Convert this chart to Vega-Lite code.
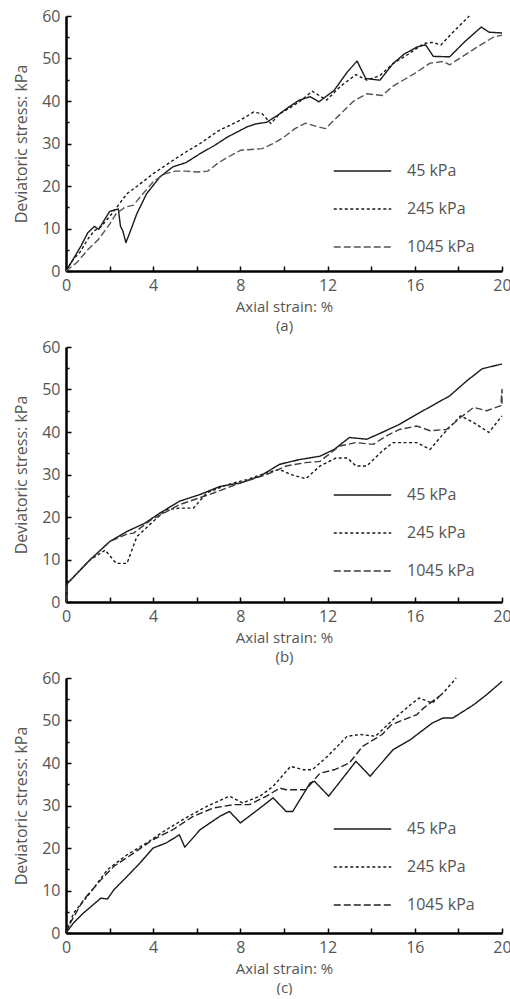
{
  "$schema": "https://vega.github.io/schema/vega-lite/v6.json",
  "padding": {"left": 13, "top": 8, "right": 5, "bottom": 0},
  "bounds": "flush",
  "spacing": 76,
  "datasets": {
    "a": [
      {"s":"45 kPa","x":0,"y":0},{"s":"45 kPa","x":0.3,"y":2.5},{"s":"45 kPa","x":0.7,"y":6},{"s":"45 kPa","x":1,"y":9},{"s":"45 kPa","x":1.3,"y":10.5},{"s":"45 kPa","x":1.5,"y":9.8},{"s":"45 kPa","x":1.7,"y":11.5},{"s":"45 kPa","x":2,"y":14},{"s":"45 kPa","x":2.4,"y":14.6},{"s":"45 kPa","x":2.5,"y":10.5},{"s":"45 kPa","x":2.6,"y":9.5},{"s":"45 kPa","x":2.75,"y":6.7},{"s":"45 kPa","x":3,"y":10},{"s":"45 kPa","x":3.25,"y":13.5},{"s":"45 kPa","x":3.7,"y":18.2},{"s":"45 kPa","x":4.3,"y":22.1},{"s":"45 kPa","x":4.9,"y":24.5},{"s":"45 kPa","x":5.5,"y":25.5},{"s":"45 kPa","x":6.15,"y":27.6},{"s":"45 kPa","x":6.8,"y":29.5},{"s":"45 kPa","x":7.4,"y":31.5},{"s":"45 kPa","x":8.3,"y":33.9},{"s":"45 kPa","x":8.7,"y":34.6},{"s":"45 kPa","x":9.2,"y":35},{"s":"45 kPa","x":9.7,"y":36.6},{"s":"45 kPa","x":10.2,"y":38.5},{"s":"45 kPa","x":10.7,"y":40.2},{"s":"45 kPa","x":11.2,"y":41},{"s":"45 kPa","x":11.6,"y":39.8},{"s":"45 kPa","x":12.3,"y":42.5},{"s":"45 kPa","x":12.9,"y":46.8},{"s":"45 kPa","x":13.35,"y":49.4},{"s":"45 kPa","x":13.75,"y":45.3},{"s":"45 kPa","x":14.4,"y":44.9},{"s":"45 kPa","x":15,"y":48.8},{"s":"45 kPa","x":15.5,"y":51},{"s":"45 kPa","x":16.1,"y":52.7},{"s":"45 kPa","x":16.5,"y":53.2},{"s":"45 kPa","x":16.85,"y":50.5},{"s":"45 kPa","x":17.6,"y":50.4},{"s":"45 kPa","x":18.3,"y":54},{"s":"45 kPa","x":19.05,"y":57.4},{"s":"45 kPa","x":19.4,"y":56.2},{"s":"45 kPa","x":20,"y":56},
      {"s":"245 kPa","x":0,"y":0},{"s":"245 kPa","x":0.3,"y":2.5},{"s":"245 kPa","x":0.65,"y":4.5},{"s":"245 kPa","x":1,"y":7.5},{"s":"245 kPa","x":1.3,"y":9.5},{"s":"245 kPa","x":1.6,"y":10.4},{"s":"245 kPa","x":2,"y":12.8},{"s":"245 kPa","x":2.3,"y":14.8},{"s":"245 kPa","x":2.8,"y":18.2},{"s":"245 kPa","x":3.4,"y":20.5},{"s":"245 kPa","x":4,"y":22.9},{"s":"245 kPa","x":4.9,"y":26},{"s":"245 kPa","x":5.5,"y":28},{"s":"245 kPa","x":6.15,"y":30},{"s":"245 kPa","x":7,"y":33},{"s":"245 kPa","x":8,"y":35.5},{"s":"245 kPa","x":8.6,"y":37.4},{"s":"245 kPa","x":9,"y":37},{"s":"245 kPa","x":9.4,"y":34.7},{"s":"245 kPa","x":9.8,"y":37},{"s":"245 kPa","x":10.3,"y":38.5},{"s":"245 kPa","x":10.7,"y":39.8},{"s":"245 kPa","x":11.3,"y":42.3},{"s":"245 kPa","x":11.95,"y":40.2},{"s":"245 kPa","x":12.6,"y":43.5},{"s":"245 kPa","x":13.3,"y":46.2},{"s":"245 kPa","x":13.8,"y":44.9},{"s":"245 kPa","x":14.4,"y":46},{"s":"245 kPa","x":15,"y":48.8},{"s":"245 kPa","x":15.7,"y":51},{"s":"245 kPa","x":16.4,"y":53.5},{"s":"245 kPa","x":16.8,"y":53.8},{"s":"245 kPa","x":17.2,"y":53.2},{"s":"245 kPa","x":17.75,"y":56.2},{"s":"245 kPa","x":18.5,"y":60},
      {"s":"1045 kPa","x":0,"y":0},{"s":"1045 kPa","x":0.5,"y":2},{"s":"1045 kPa","x":1,"y":5},{"s":"1045 kPa","x":1.5,"y":7.5},{"s":"1045 kPa","x":2,"y":11},{"s":"1045 kPa","x":2.3,"y":13.5},{"s":"1045 kPa","x":2.7,"y":15},{"s":"1045 kPa","x":3.1,"y":15.5},{"s":"1045 kPa","x":3.5,"y":18},{"s":"1045 kPa","x":4,"y":21},{"s":"1045 kPa","x":4.5,"y":22.8},{"s":"1045 kPa","x":5,"y":23.5},{"s":"1045 kPa","x":5.5,"y":23.5},{"s":"1045 kPa","x":6,"y":23.3},{"s":"1045 kPa","x":6.5,"y":23.5},{"s":"1045 kPa","x":7,"y":25.5},{"s":"1045 kPa","x":7.5,"y":27},{"s":"1045 kPa","x":8,"y":28.4},{"s":"1045 kPa","x":8.5,"y":28.6},{"s":"1045 kPa","x":9,"y":28.8},{"s":"1045 kPa","x":9.5,"y":30},{"s":"1045 kPa","x":10,"y":31.5},{"s":"1045 kPa","x":10.5,"y":33.5},{"s":"1045 kPa","x":11,"y":34.8},{"s":"1045 kPa","x":11.5,"y":34},{"s":"1045 kPa","x":11.9,"y":33.5},{"s":"1045 kPa","x":12.5,"y":36.5},{"s":"1045 kPa","x":13.2,"y":40},{"s":"1045 kPa","x":13.8,"y":41.7},{"s":"1045 kPa","x":14.5,"y":41.3},{"s":"1045 kPa","x":15,"y":43.5},{"s":"1045 kPa","x":15.5,"y":45},{"s":"1045 kPa","x":16,"y":46.5},{"s":"1045 kPa","x":16.7,"y":48.9},{"s":"1045 kPa","x":17.3,"y":49.3},{"s":"1045 kPa","x":17.6,"y":48.5},{"s":"1045 kPa","x":18.2,"y":50.5},{"s":"1045 kPa","x":18.8,"y":52.5},{"s":"1045 kPa","x":19.6,"y":55},{"s":"1045 kPa","x":20,"y":55.5}
    ],
    "b": [
      {"s":"45 kPa","x":0,"y":0},{"s":"45 kPa","x":0.05,"y":4.3},{"s":"45 kPa","x":0.5,"y":6.7},{"s":"45 kPa","x":1.1,"y":9.9},{"s":"45 kPa","x":2,"y":14.2},{"s":"45 kPa","x":2.8,"y":16.6},{"s":"45 kPa","x":3.6,"y":18.5},{"s":"45 kPa","x":4.3,"y":20.9},{"s":"45 kPa","x":5.2,"y":23.7},{"s":"45 kPa","x":6.15,"y":25.3},{"s":"45 kPa","x":7.07,"y":27.2},{"s":"45 kPa","x":8,"y":28},{"s":"45 kPa","x":8.9,"y":29.6},{"s":"45 kPa","x":9.8,"y":32.4},{"s":"45 kPa","x":10.7,"y":33.5},{"s":"45 kPa","x":11.65,"y":34.3},{"s":"45 kPa","x":12.3,"y":35.9},{"s":"45 kPa","x":13,"y":38.7},{"s":"45 kPa","x":13.8,"y":38.3},{"s":"45 kPa","x":14.5,"y":39.9},{"s":"45 kPa","x":15.3,"y":41.8},{"s":"45 kPa","x":16.1,"y":44.2},{"s":"45 kPa","x":16.8,"y":46.2},{"s":"45 kPa","x":17.6,"y":48.5},{"s":"45 kPa","x":18.4,"y":52.1},{"s":"45 kPa","x":19.1,"y":54.9},{"s":"45 kPa","x":20,"y":56},
      {"s":"245 kPa","x":0,"y":0},{"s":"245 kPa","x":0.05,"y":4.3},{"s":"245 kPa","x":0.5,"y":6.7},{"s":"245 kPa","x":1.1,"y":9.9},{"s":"245 kPa","x":1.8,"y":12.2},{"s":"245 kPa","x":2.3,"y":9.1},{"s":"245 kPa","x":2.8,"y":9.1},{"s":"245 kPa","x":3.25,"y":15.4},{"s":"245 kPa","x":3.9,"y":18.5},{"s":"245 kPa","x":4.6,"y":21.7},{"s":"245 kPa","x":5.2,"y":22.1},{"s":"245 kPa","x":5.85,"y":22.1},{"s":"245 kPa","x":6.46,"y":25.7},{"s":"245 kPa","x":7.4,"y":27.6},{"s":"245 kPa","x":8.3,"y":28.8},{"s":"245 kPa","x":9.2,"y":30.4},{"s":"245 kPa","x":9.8,"y":31.2},{"s":"245 kPa","x":10.3,"y":30},{"s":"245 kPa","x":11,"y":29},{"s":"245 kPa","x":11.65,"y":32},{"s":"245 kPa","x":12.4,"y":33.9},{"s":"245 kPa","x":12.9,"y":33.9},{"s":"245 kPa","x":13.3,"y":32},{"s":"245 kPa","x":13.8,"y":32},{"s":"245 kPa","x":14.5,"y":35.5},{"s":"245 kPa","x":15,"y":37.5},{"s":"245 kPa","x":16.1,"y":37.5},{"s":"245 kPa","x":16.7,"y":35.9},{"s":"245 kPa","x":17.3,"y":39.5},{"s":"245 kPa","x":18.1,"y":43.8},{"s":"245 kPa","x":18.7,"y":42.2},{"s":"245 kPa","x":19.4,"y":39.9},{"s":"245 kPa","x":20,"y":43.8},
      {"s":"1045 kPa","x":0,"y":0},{"s":"1045 kPa","x":0.05,"y":4.3},{"s":"1045 kPa","x":0.5,"y":6.7},{"s":"1045 kPa","x":1.1,"y":9.9},{"s":"1045 kPa","x":2,"y":14.2},{"s":"1045 kPa","x":2.8,"y":16},{"s":"1045 kPa","x":3.1,"y":16.2},{"s":"1045 kPa","x":3.9,"y":19.3},{"s":"1045 kPa","x":5.2,"y":22.9},{"s":"1045 kPa","x":6.8,"y":25.7},{"s":"1045 kPa","x":8,"y":28},{"s":"1045 kPa","x":9.2,"y":30},{"s":"1045 kPa","x":10.1,"y":32},{"s":"1045 kPa","x":11,"y":32.8},{"s":"1045 kPa","x":11.65,"y":33.1},{"s":"1045 kPa","x":12.55,"y":36.7},{"s":"1045 kPa","x":13.3,"y":37.5},{"s":"1045 kPa","x":14.1,"y":37.1},{"s":"1045 kPa","x":14.7,"y":39.1},{"s":"1045 kPa","x":15.3,"y":40.6},{"s":"1045 kPa","x":16.1,"y":41.4},{"s":"1045 kPa","x":16.7,"y":40.3},{"s":"1045 kPa","x":17.45,"y":40.6},{"s":"1045 kPa","x":18.1,"y":43.4},{"s":"1045 kPa","x":18.7,"y":45.8},{"s":"1045 kPa","x":19.3,"y":45},{"s":"1045 kPa","x":19.95,"y":46.2},{"s":"1045 kPa","x":20,"y":50},{"s":"1045 kPa","x":20,"y":46.2}
    ],
    "c": [
      {"s":"45 kPa","x":0,"y":0},{"s":"45 kPa","x":0.35,"y":2.4},{"s":"45 kPa","x":0.8,"y":4.7},{"s":"45 kPa","x":1.6,"y":8.2},{"s":"45 kPa","x":1.9,"y":8},{"s":"45 kPa","x":2.2,"y":10.2},{"s":"45 kPa","x":2.8,"y":13.3},{"s":"45 kPa","x":3.4,"y":16.5},{"s":"45 kPa","x":4,"y":20},{"s":"45 kPa","x":4.6,"y":21.2},{"s":"45 kPa","x":5.2,"y":23.1},{"s":"45 kPa","x":5.45,"y":20.2},{"s":"45 kPa","x":6.15,"y":24.3},{"s":"45 kPa","x":7.07,"y":27.5},{"s":"45 kPa","x":7.5,"y":28.6},{"s":"45 kPa","x":8,"y":25.9},{"s":"45 kPa","x":8.9,"y":29.4},{"s":"45 kPa","x":9.5,"y":31.8},{"s":"45 kPa","x":10.1,"y":28.6},{"s":"45 kPa","x":10.4,"y":28.6},{"s":"45 kPa","x":11.2,"y":35.3},{"s":"45 kPa","x":11.4,"y":35.7},{"s":"45 kPa","x":12.05,"y":32.2},{"s":"45 kPa","x":13.3,"y":40.4},{"s":"45 kPa","x":13.95,"y":36.9},{"s":"45 kPa","x":15,"y":43.1},{"s":"45 kPa","x":15.8,"y":45.5},{"s":"45 kPa","x":16.8,"y":49.4},{"s":"45 kPa","x":17.3,"y":50.6},{"s":"45 kPa","x":17.75,"y":50.6},{"s":"45 kPa","x":18.7,"y":53.7},{"s":"45 kPa","x":19.3,"y":56.1},{"s":"45 kPa","x":20,"y":59.2},
      {"s":"245 kPa","x":0,"y":0},{"s":"245 kPa","x":0.35,"y":4.7},{"s":"245 kPa","x":1.1,"y":9.4},{"s":"245 kPa","x":1.9,"y":14.9},{"s":"245 kPa","x":2.8,"y":18.4},{"s":"245 kPa","x":3.7,"y":21.2},{"s":"245 kPa","x":4.6,"y":24.3},{"s":"245 kPa","x":5.5,"y":27.1},{"s":"245 kPa","x":6.46,"y":29.8},{"s":"245 kPa","x":7.5,"y":32.2},{"s":"245 kPa","x":8.1,"y":30.6},{"s":"245 kPa","x":8.9,"y":32.2},{"s":"245 kPa","x":9.5,"y":34.5},{"s":"245 kPa","x":10.3,"y":39.2},{"s":"245 kPa","x":10.9,"y":38.4},{"s":"245 kPa","x":11.3,"y":38.4},{"s":"245 kPa","x":12,"y":41.6},{"s":"245 kPa","x":12.9,"y":46.3},{"s":"245 kPa","x":13.5,"y":46.7},{"s":"245 kPa","x":14.2,"y":46.3},{"s":"245 kPa","x":15,"y":50.2},{"s":"245 kPa","x":15.8,"y":53.7},{"s":"245 kPa","x":16.2,"y":55.3},{"s":"245 kPa","x":16.8,"y":54.1},{"s":"245 kPa","x":17.3,"y":56.5},{"s":"245 kPa","x":17.9,"y":60},
      {"s":"1045 kPa","x":0,"y":0},{"s":"1045 kPa","x":0.2,"y":2.4},{"s":"1045 kPa","x":0.8,"y":7.8},{"s":"1045 kPa","x":1.6,"y":12.5},{"s":"1045 kPa","x":2.2,"y":15.7},{"s":"1045 kPa","x":3.1,"y":18.8},{"s":"1045 kPa","x":4,"y":22},{"s":"1045 kPa","x":4.9,"y":24.3},{"s":"1045 kPa","x":5.85,"y":27.5},{"s":"1045 kPa","x":6.76,"y":29.4},{"s":"1045 kPa","x":7.7,"y":30.2},{"s":"1045 kPa","x":8.4,"y":30.2},{"s":"1045 kPa","x":9.2,"y":32.2},{"s":"1045 kPa","x":9.8,"y":34.1},{"s":"1045 kPa","x":10.1,"y":33.7},{"s":"1045 kPa","x":11,"y":33.7},{"s":"1045 kPa","x":11.65,"y":37.6},{"s":"1045 kPa","x":12.3,"y":38.4},{"s":"1045 kPa","x":13,"y":40},{"s":"1045 kPa","x":13.6,"y":43.9},{"s":"1045 kPa","x":14.5,"y":46.7},{"s":"1045 kPa","x":14.9,"y":48.9},{"s":"1045 kPa","x":15.3,"y":49.8},{"s":"1045 kPa","x":16.1,"y":51.4},{"s":"1045 kPa","x":16.4,"y":52.9},{"s":"1045 kPa","x":16.7,"y":54.1},{"s":"1045 kPa","x":17.2,"y":56}
    ]
  },
  "vconcat": [
    {
      "width": 436, "height": 255,
      "data": {"name": "a"},
      "mark": {"type": "line", "strokeJoin": "round"},
      "encoding": {
        "x": {"field": "x", "type": "quantitative", "scale": {"domain": [0, 20], "nice": false}, "axis": {"values": [0,2,4,6,8,10,12,14,16,18,20], "labelExpr": "datum.value % 4 === 0 ? datum.label : ''", "title": ["Axial strain: %", "(a)"]}},
        "y": {"field": "y", "type": "quantitative", "scale": {"domain": [0, 60], "nice": false}, "axis": {"values": [0,5,10,15,20,25,30,35,40,45,50,55,60], "labelExpr": "datum.value % 10 === 0 ? datum.label : ''", "title": "Deviatoric stress: kPa", "tickSize": {"condition": {"test": "datum.value % 10 === 0", "value": -5}, "value": -3}}},
        "strokeDash": {"field": "s", "type": "nominal", "scale": {"domain": ["45 kPa", "245 kPa", "1045 kPa"], "range": [[1, 0], [3, 2.5], [7, 3]]}, "legend": {"orient": "none", "legendX": 267, "legendY": 147, "title": null}},
        "color": {"field": "s", "type": "nominal", "scale": {"domain": ["45 kPa", "245 kPa", "1045 kPa"], "range": ["#1a1a1a", "#1a1a1a", "#555555"]}, "legend": {"orient": "none", "legendX": 267, "legendY": 147, "title": null}},
        "strokeWidth": {"field": "s", "type": "nominal", "scale": {"domain": ["45 kPa", "245 kPa", "1045 kPa"], "range": [1.4, 1.4, 2.6]}, "legend": {"orient": "none", "legendX": 267, "legendY": 147, "title": null}}
      }
    },
    {
      "width": 436, "height": 255,
      "data": {"name": "b"},
      "mark": {"type": "line", "strokeJoin": "round"},
      "encoding": {
        "x": {"field": "x", "type": "quantitative", "scale": {"domain": [0, 20], "nice": false}, "axis": {"values": [0,2,4,6,8,10,12,14,16,18,20], "labelExpr": "datum.value % 4 === 0 ? datum.label : ''", "title": ["Axial strain: %", "(b)"]}},
        "y": {"field": "y", "type": "quantitative", "scale": {"domain": [0, 60], "nice": false}, "axis": {"values": [0,5,10,15,20,25,30,35,40,45,50,55,60], "labelExpr": "datum.value % 10 === 0 ? datum.label : ''", "title": "Deviatoric stress: kPa", "tickSize": {"condition": {"test": "datum.value % 10 === 0", "value": -5}, "value": -3}}},
        "strokeDash": {"field": "s", "type": "nominal", "scale": {"domain": ["45 kPa", "245 kPa", "1045 kPa"], "range": [[1, 0], [3, 2.5], [7, 3]]}, "legend": {"orient": "none", "legendX": 267, "legendY": 140, "title": null}},
        "color": {"field": "s", "type": "nominal", "scale": {"domain": ["45 kPa", "245 kPa", "1045 kPa"], "range": ["#1a1a1a", "#1a1a1a", "#3d3d3d"]}, "legend": {"orient": "none", "legendX": 267, "legendY": 140, "title": null}},
        "strokeWidth": {"field": "s", "type": "nominal", "scale": {"domain": ["45 kPa", "245 kPa", "1045 kPa"], "range": [1.4, 1.4, 2.4]}, "legend": {"orient": "none", "legendX": 267, "legendY": 140, "title": null}}
      }
    },
    {
      "width": 436, "height": 255,
      "data": {"name": "c"},
      "mark": {"type": "line", "strokeJoin": "round"},
      "encoding": {
        "x": {"field": "x", "type": "quantitative", "scale": {"domain": [0, 20], "nice": false}, "axis": {"values": [0,2,4,6,8,10,12,14,16,18,20], "labelExpr": "datum.value % 4 === 0 ? datum.label : ''", "title": ["Axial strain: %", "(c)"]}},
        "y": {"field": "y", "type": "quantitative", "scale": {"domain": [0, 60], "nice": false}, "axis": {"values": [0,5,10,15,20,25,30,35,40,45,50,55,60], "labelExpr": "datum.value % 10 === 0 ? datum.label : ''", "title": "Deviatoric stress: kPa", "tickSize": {"condition": {"test": "datum.value % 10 === 0", "value": -5}, "value": -3}}},
        "strokeDash": {"field": "s", "type": "nominal", "scale": {"domain": ["45 kPa", "245 kPa", "1045 kPa"], "range": [[1, 0], [3, 2.5], [7, 3]]}, "legend": {"orient": "none", "legendX": 267, "legendY": 143, "title": null}},
        "color": {"field": "s", "type": "nominal", "scale": {"domain": ["45 kPa", "245 kPa", "1045 kPa"], "range": ["#1a1a1a", "#1a1a1a", "#222222"]}, "legend": {"orient": "none", "legendX": 267, "legendY": 143, "title": null}},
        "strokeWidth": {"field": "s", "type": "nominal", "scale": {"domain": ["45 kPa", "245 kPa", "1045 kPa"], "range": [1.4, 1.4, 2.4]}, "legend": {"orient": "none", "legendX": 267, "legendY": 143, "title": null}}
      }
    }
  ],
  "resolve": {
    "scale": {"color": "independent", "strokeDash": "independent", "strokeWidth": "independent"},
    "legend": {"color": "independent", "strokeDash": "independent", "strokeWidth": "independent"}
  },
  "config": {
    "view": {"stroke": null},
    "font": "Open Sans",
    "axis": {
      "grid": false,
      "domainColor": "#000000",
      "domainWidth": 2.5,
      "tickColor": "#000000",
      "tickWidth": 1.5,
      "tickSize": -5,
      "labelFontSize": 16,
      "labelColor": "#555555",
      "labelPadding": 11,
      "labelFlush": false,
      "labelOverlap": false,
      "titleFontSize": 16,
      "titleFontWeight": "normal",
      "titleColor": "#555555"
    },
    "axisX": {"titlePadding": 6, "titleLineHeight": 19, "titleFontSize": 15},
    "axisY": {"titlePadding": 12},
    "legend": {
      "symbolType": "stroke",
      "symbolSize": 3300,
      "labelFontSize": 16,
      "labelColor": "#555555",
      "labelOffset": 15,
      "rowPadding": 22,
      "clipHeight": 16,
      "padding": 0
    }
  }
}
